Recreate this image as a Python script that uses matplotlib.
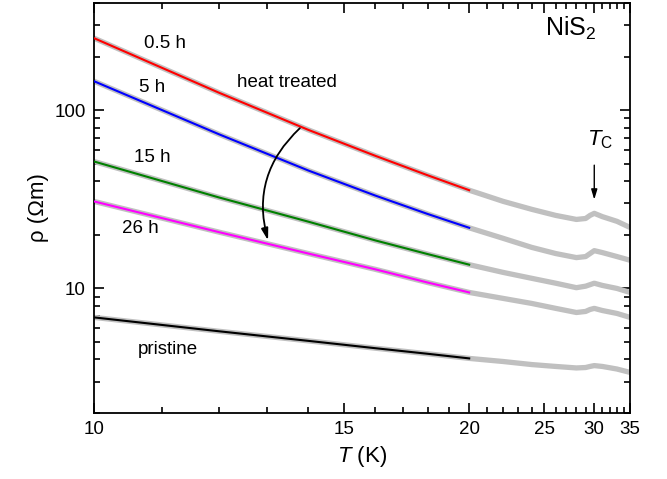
import numpy as np
import matplotlib
matplotlib.use('Agg')
import matplotlib.pyplot as plt

plt.rcParams['font.family'] = ['Liberation Sans', 'DejaVu Sans']
plt.rcParams['mathtext.fontset'] = 'custom'
plt.rcParams['mathtext.rm'] = 'Liberation Sans'
plt.rcParams['mathtext.it'] = 'Liberation Sans:italic'

## temperatures (K)
T_low = [10, 12, 14, 16, 18, 20]
T_high = [20, 22, 24, 26, 28, 29, 29.5, 30, 31, 33, 35]

## resistivity (Ohm m), colored part 10-20 K
rho_05h = [254, 125.4, 77.6, 55.5, 43.2, 35.6]
rho_5h = [145.6, 73.3, 45.9, 33.2, 26.2, 21.9]
rho_15h = [51.6, 32.4, 23.7, 18.6, 15.6, 13.6]
rho_26h = [30.8, 20.7, 15.7, 12.8, 10.8, 9.5]
rho_pristine = [6.88, 5.75, 5.08, 4.62, 4.30, 4.05]

## gray part 20-35 K
rho_05h_hi = [35.6, 30.8, 27.8, 25.7, 24.4, 24.7, 25.7, 26.4, 25.3, 23.8, 22.0]
rho_5h_hi = [21.9, 19.1, 17.0, 15.7, 14.9, 15.1, 15.7, 16.3, 15.9, 15.1, 14.4]
rho_15h_hi = [13.6, 12.3, 11.4, 10.7, 10.1, 10.3, 10.5, 10.7, 10.4, 10.0, 9.5]
rho_26h_hi = [9.5, 8.79, 8.24, 7.73, 7.33, 7.43, 7.62, 7.73, 7.52, 7.24, 6.88]
rho_pristine_hi = [4.05, 3.89, 3.74, 3.65, 3.58, 3.60, 3.65, 3.69, 3.65, 3.53, 3.38]

labels = ['0.5 h', '5 h', '15 h', '26 h', 'pristine']
colors = ['#ff0000', '#0000ff', '#008000', '#ff00ff', '#000000']
low = [rho_05h, rho_5h, rho_15h, rho_26h, rho_pristine]
high = [rho_05h_hi, rho_5h_hi, rho_15h_hi, rho_26h_hi, rho_pristine_hi]

fig = plt.figure(figsize=(6.67, 4.79), dpi=100)
ax = fig.add_axes([94/667, 1-413/479, 536/667, 410/479])

# x axis is 1/T, labelled in T
ax.set_xscale('function', functions=(lambda t: -1.0/np.asarray(t, float),
                                      lambda u: -1.0/np.asarray(u, float)))
ax.set_yscale('log')

for lo, hi, c in zip(low, high, colors):
    T_all = T_low + T_high[1:]
    r_all = lo + hi[1:]
    ax.plot(T_all, r_all, color='#c0c0c0', lw=3.8, solid_capstyle='butt',
            solid_joinstyle='round', zorder=2)
    ax.plot(T_low, lo, color=c, lw=1.5, solid_joinstyle='round', zorder=3)

ax.set_xlim(10, 35)
ax.set_ylim(2, 400)

ax.set_xticks([10, 15, 20, 25, 30, 35])
ax.set_xticklabels(['10', '15', '20', '25', '30', '35'])
ax.set_xticks([t for t in range(11, 35) if t % 5 != 0], minor=True)
ax.xaxis.set_minor_formatter(matplotlib.ticker.NullFormatter())
ax.set_yticks([10, 100])
ax.set_yticklabels(['10', '100'])
ax.yaxis.set_minor_locator(matplotlib.ticker.LogLocator(base=10, subs=np.arange(2, 10)))
ax.yaxis.set_minor_formatter(matplotlib.ticker.NullFormatter())

ax.tick_params(which='both', direction='in', top=True, right=True, width=1.2,
               labelsize=13.5)
ax.tick_params(which='major', length=7, pad=6)
ax.tick_params(which='minor', length=4)
for s in ax.spines.values():
    s.set_linewidth(1.3)

ax.set_xlabel('$T$ (K)', fontsize=16, labelpad=4)
ax.set_ylabel('ρ (Ωm)', fontsize=16, labelpad=4)

fs = 13.5
ax.text(0.1325, 0.902, '0.5 h', transform=ax.transAxes, ha='center', va='center', fontsize=fs)
ax.text(0.108, 0.793, '5 h', transform=ax.transAxes, ha='center', va='center', fontsize=fs)
ax.text(0.360, 0.805, 'heat treated', transform=ax.transAxes, ha='center', va='center', fontsize=fs)
ax.text(0.108, 0.622, '15 h', transform=ax.transAxes, ha='center', va='center', fontsize=fs)
ax.text(0.086, 0.449, '26 h', transform=ax.transAxes, ha='center', va='center', fontsize=fs)
ax.text(0.138, 0.154, 'pristine', transform=ax.transAxes, ha='center', va='center', fontsize=fs)
ax.text(0.937, 0.937, 'NiS$_2$', transform=ax.transAxes, ha='right', va='center', fontsize=18)
ax.text(0.944, 0.666, '$T_{\\mathrm{C}}$', transform=ax.transAxes, ha='center', va='center', fontsize=16)

# T_C arrow
ax.annotate('', xy=(30, 30.4), xytext=(30, 51),
            arrowprops=dict(arrowstyle='-|>,head_width=0.18,head_length=0.6',
                            color='black', lw=1.0))
# curved arrow
ax.annotate('', xy=(13.02, 18.6), xytext=(13.78, 79.3),
            arrowprops=dict(arrowstyle='-|>,head_width=0.2,head_length=0.7',
                            connectionstyle='arc3,rad=0.3', color='black', lw=1.3,
                            shrinkA=0, shrinkB=0))

fig.savefig('out.png', dpi=100)
